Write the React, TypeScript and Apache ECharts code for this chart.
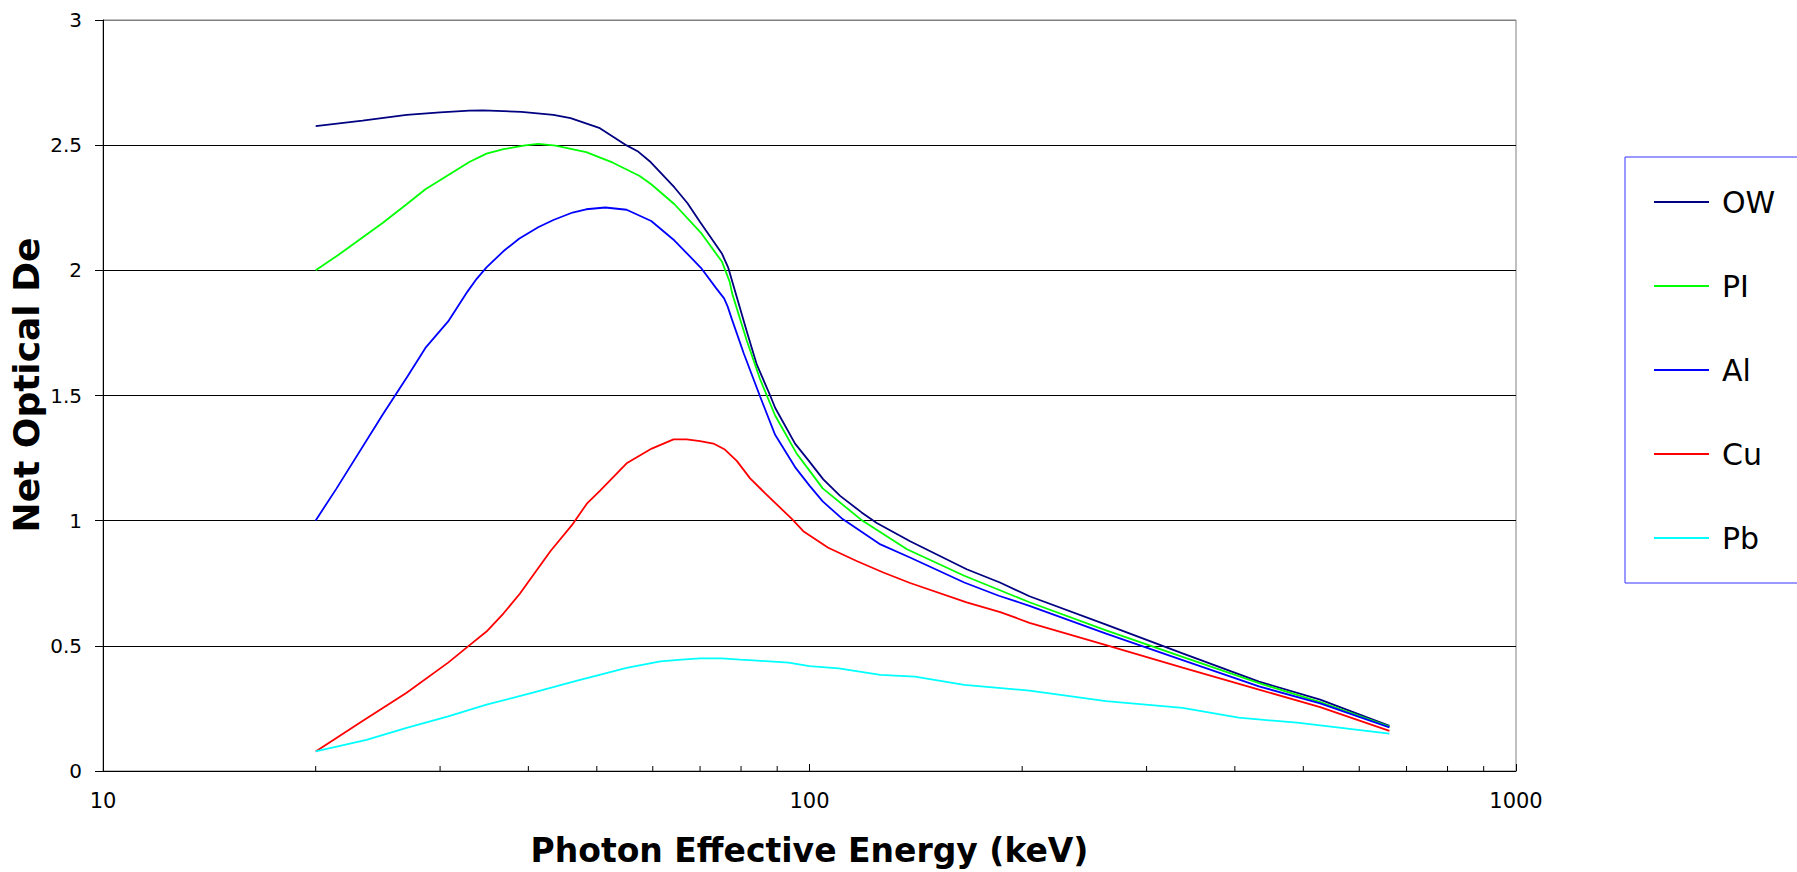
import React, { useEffect, useRef } from 'react';
import * as echarts from 'echarts';

// Net optical density vs. photon effective energy, one curve per filter
const seriesNames = ['OW', 'PI', 'Al', 'Cu', 'Pb'];
const seriesColors = ['#000080', '#00ff00', '#0000ff', '#ff0000', '#00ffff'];

// [energy keV, net optical density]
const owData: [number, number][] = [
  [20, 2.576], [23.3, 2.598], [26.9, 2.621], [30, 2.631], [33, 2.638], [34.5, 2.639],
  [39.1, 2.633], [43.4, 2.621], [45.9, 2.608], [50.5, 2.568], [55.1, 2.499], [57.1, 2.476],
  [59.4, 2.436], [64.4, 2.331], [67.2, 2.268], [70, 2.193], [75.2, 2.066], [76.7, 2.012],
  [81.5, 1.757], [84.2, 1.624], [88, 1.499], [89.4, 1.451], [95.4, 1.308], [99.6, 1.242],
  [104.6, 1.165], [110.5, 1.099], [118.5, 1.033], [124.5, 0.991], [138.8, 0.918],
  [166.9, 0.806], [186, 0.753], [204.8, 0.698], [262.9, 0.585], [337.3, 0.47],
  [432.7, 0.357], [528.2, 0.285], [662, 0.18],
];

const piData: [number, number][] = [
  [20, 2.0], [21.6, 2.064], [24.9, 2.19], [26.9, 2.264], [28.6, 2.324], [33, 2.433],
  [34.9, 2.466], [36.9, 2.484], [39.6, 2.499], [41.3, 2.505], [43.7, 2.498], [48.3, 2.472],
  [52.7, 2.43], [57.5, 2.377], [59.7, 2.344], [64.4, 2.264], [70.2, 2.15], [75.2, 2.034],
  [77.1, 1.954], [77.7, 1.909], [81.5, 1.72], [85.1, 1.566], [89.4, 1.42], [96, 1.266],
  [100, 1.2], [104.4, 1.129], [118.3, 1.004], [137.4, 0.886], [165.6, 0.78], [204.8, 0.674],
  [262.9, 0.562], [337.3, 0.456], [432.7, 0.351], [528.2, 0.275], [662, 0.177],
];

const alData: [number, number][] = [
  [20, 1.001], [21.4, 1.128], [24.9, 1.425], [27, 1.578], [28.6, 1.69], [30.8, 1.796],
  [32.8, 1.915], [33.8, 1.966], [34.9, 2.012], [36.9, 2.077], [38.8, 2.126], [41.3, 2.172],
  [43.4, 2.201], [46.2, 2.231], [48.3, 2.244], [51.4, 2.251], [55.1, 2.242], [59.7, 2.197],
  [64.4, 2.119], [70.2, 2.01], [73.8, 1.928], [75.7, 1.888], [76.6, 1.855], [77.6, 1.807],
  [80.7, 1.669], [85.1, 1.497], [89.4, 1.343], [95.4, 1.214], [100, 1.14], [104.4, 1.077],
  [111, 1.01], [126, 0.905], [139, 0.852], [165.6, 0.753], [185.3, 0.7], [204.8, 0.66],
  [262.9, 0.549], [337.3, 0.443], [432.7, 0.338], [528.2, 0.27], [662, 0.174],
];

const cuData: [number, number][] = [
  [20, 0.078], [23.3, 0.2], [26.9, 0.313], [30.8, 0.433], [33, 0.502], [34.9, 0.557],
  [36.9, 0.63], [38.9, 0.708], [43, 0.879], [46.1, 0.982], [48.4, 1.068], [50.5, 1.119],
  [55.1, 1.229], [59.8, 1.288], [64.2, 1.325], [67, 1.325], [70, 1.318], [73.1, 1.308],
  [75.9, 1.284], [78.9, 1.239], [82.4, 1.169], [86.5, 1.11], [94.4, 1.007], [98, 0.958],
  [106.3, 0.892], [116.6, 0.839], [127.2, 0.793], [138.8, 0.751], [166.9, 0.674],
  [186.2, 0.635], [204.8, 0.592], [262.9, 0.503], [337.3, 0.413], [432.7, 0.325],
  [528.2, 0.255], [662, 0.16],
];

const pbData: [number, number][] = [
  [20, 0.078], [23.6, 0.124], [26.9, 0.172], [30.8, 0.218], [34.9, 0.265], [40.6, 0.313],
  [46.9, 0.361], [55.1, 0.412], [61.5, 0.438], [65.9, 0.445], [70, 0.45], [75.1, 0.45],
  [79.7, 0.445], [83.3, 0.442], [93.4, 0.433], [100, 0.419], [110, 0.41], [126, 0.384],
  [141, 0.377], [165.6, 0.344], [204.8, 0.321], [262.9, 0.279], [337.3, 0.252],
  [405, 0.213], [490, 0.193], [662, 0.149],
];

const allData = [owData, piData, alData, cuData, pbData];

// minor tick positions on the logarithmic energy axis
const minorTickEnergies = [20, 30, 40, 50, 60, 70, 80, 90, 200, 300, 400, 500, 600, 700, 800, 900];

const FONT = '"DejaVu Sans", "Liberation Sans", Arial, sans-serif';

export default function App() {
  const ref = useRef<HTMLDivElement>(null);

  useEffect(() => {
    if (!ref.current) return;
    const chart = echarts.init(ref.current, undefined, { renderer: 'svg' });

    const lineSeries = seriesNames.map((name, i) => ({
      name,
      type: 'line',
      data: allData[i],
      symbol: 'none',
      showSymbol: false,
      smooth: false,
      lineStyle: { color: seriesColors[i], width: 1.8 },
      itemStyle: { color: seriesColors[i] },
      z: 3,
    }));

    chart.setOption({
      animation: false,
      backgroundColor: '#ffffff',
      grid: {
        left: 103,
        right: 281,
        top: 20,
        bottom: 95,
        show: true,
        borderColor: '#808080',
        borderWidth: 1,
        backgroundColor: '#ffffff',
      },
      xAxis: {
        type: 'log',
        logBase: 10,
        min: 10,
        max: 1000,
        name: 'Photon Effective Energy (keV)',
        nameLocation: 'middle',
        nameGap: 63,
        nameTextStyle: { fontFamily: FONT, fontWeight: 'bold', fontSize: 33, color: '#000' },
        axisLine: { show: true, lineStyle: { color: '#000', width: 1 } },
        axisTick: { show: true, inside: true, length: 7, lineStyle: { color: '#000' } },
        axisLabel: {
          fontFamily: FONT,
          fontSize: 21,
          color: '#000',
          margin: 19,
          formatter: (v: number) => String(Math.round(v)),
        },
        splitLine: { show: false },
        minorTick: { show: false },
      },
      yAxis: {
        type: 'value',
        min: 0,
        max: 3,
        interval: 0.5,
        axisLine: { show: true, lineStyle: { color: '#000', width: 1 } },
        axisTick: { show: true, inside: false, length: 8, lineStyle: { color: '#000' } },
        axisLabel: { fontFamily: FONT, fontSize: 20, color: '#000', margin: 21 },
        splitLine: {
          show: true,
          lineStyle: {
            color: ['#000', '#000', '#000', '#000', '#000', '#000', '#808080'],
            width: 1,
          },
        },
      },
      legend: {
        data: seriesNames,
        orient: 'vertical',
        left: 1625,
        top: 157,
        padding: [30, 120, 30, 29],
        itemGap: 54,
        itemWidth: 55,
        itemHeight: 2,
        icon: 'rect',
        borderColor: '#3333ff',
        borderWidth: 1,
        backgroundColor: '#ffffff',
        textStyle: { fontFamily: FONT, fontSize: 30, color: '#000', padding: [0, 0, 0, 8] },
      },
      graphic: [
        {
          type: 'text',
          x: 26,
          y: 385,
          rotation: Math.PI / 2,
          style: {
            text: 'Net Optical De',
            font: `bold 36px ${FONT}`,
            fill: '#000',
            align: 'center',
            verticalAlign: 'middle',
          },
        },
      ],
      series: [
        ...lineSeries,
        {
          type: 'custom',
          name: 'minorTicks',
          silent: true,
          clip: false,
          data: minorTickEnergies.map((v) => [v, 0]),
          encode: { x: 0, y: 1 },
          renderItem: (_params: any, api: any) => {
            const p = api.coord([api.value(0), 0]);
            return {
              type: 'line',
              shape: { x1: p[0], y1: p[1], x2: p[0], y2: p[1] - 5 },
              style: { stroke: '#000', lineWidth: 1 },
            };
          },
          z: 4,
        },
      ],
    });

    return () => {
      chart.dispose();
    };
  }, []);

  return (
    <div
      ref={ref}
      style={{ position: 'fixed', left: 0, top: 0, width: '1797px', height: '872px' }}
    />
  );
}
